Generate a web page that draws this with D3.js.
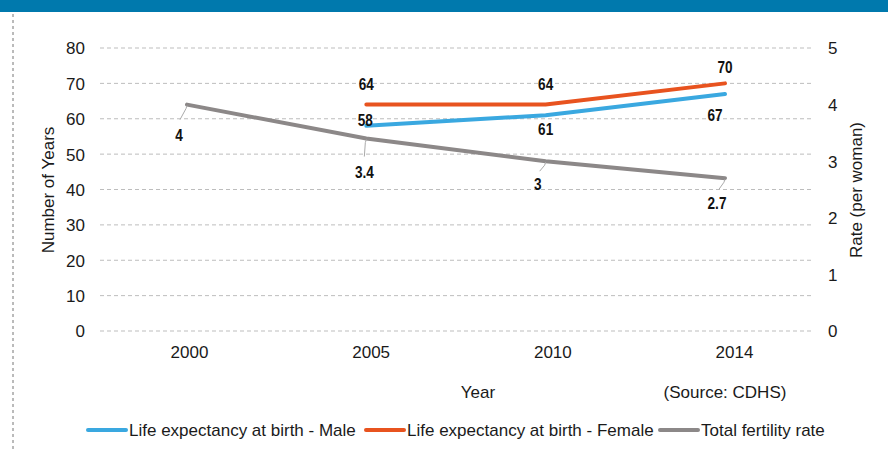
<!DOCTYPE html>
<html><head><meta charset="utf-8">
<script src="https://cdn.jsdelivr.net/npm/d3@7"></script>
<style>body{margin:0;background:#fff}svg{display:block}text{font-family:"Liberation Sans",Arial,sans-serif}</style>
</head><body>
<svg id="c" width="888" height="450"></svg>
<script>
const years = ["2000","2005","2010","2014"];
const maleLE = [null, 58, 61, 67];
const femaleLE = [null, 64, 64, 70];
const fertility = [4, 3.4, 3, 2.7];
const leftTicks = [0,10,20,30,40,50,60,70,80];
const rightTicks = [0,1,2,3,4,5];
const seriesNames = ["Life expectancy at birth - Male","Life expectancy at birth - Female","Total fertility rate"];
const colors = ["#3AA8E0","#E8531F","#8C8888"];

const svg = d3.select("#c");
svg.append("rect").attr("x",0).attr("y",0).attr("width",888).attr("height",12).attr("fill","#0079AD");
svg.append("line").attr("x1",13).attr("x2",13).attr("y1",14).attr("y2",450)
  .attr("stroke","#777").attr("stroke-width",1).attr("stroke-dasharray","3,3");

const x = d3.scalePoint().domain(years).range([187,725]);
const xAxisScale = d3.scalePoint().domain(years).range([189,734]);
const yL = d3.scaleLinear().domain([0,80]).range([331,48]);
const yR = d3.scaleLinear().domain([0,5]).range([331,48]);
const FS = 17;

// gridlines
svg.append("g").selectAll("line").data(leftTicks).join("line")
  .attr("x1",100).attr("x2",813).attr("y1",d=>yL(d)).attr("y2",d=>yL(d))
  .attr("stroke","#bdbdbd").attr("stroke-width",1).attr("stroke-dasharray","4,3");

// left axis
const axL = d3.axisLeft(yL).tickValues(leftTicks).tickSize(0).tickPadding(0);
const gL = svg.append("g").attr("transform","translate(85,0)").call(axL);
gL.select(".domain").remove();
gL.selectAll("text").attr("font-size",FS).attr("fill","#1a1a1a").attr("dy","0.35em");

const axR = d3.axisRight(yR).tickValues(rightTicks).tickSize(0).tickPadding(0).tickFormat(d3.format("d"));
const gR = svg.append("g").attr("transform","translate(828,0)").call(axR);
gR.select(".domain").remove();
gR.selectAll("text").attr("font-size",FS).attr("fill","#1a1a1a").attr("dy","0.35em");

const axB = d3.axisBottom(xAxisScale).tickSize(0).tickPadding(0);
const gB = svg.append("g").attr("transform","translate(0,346)").call(axB);
gB.select(".domain").remove();
gB.selectAll("text").attr("font-size",FS).attr("fill","#1a1a1a").attr("dy","0.71em");

// axis titles
svg.append("text").attr("transform","translate(54,190) rotate(-90)").attr("text-anchor","middle")
  .attr("font-size",FS).attr("fill","#1a1a1a").text("Number of Years");
svg.append("text").attr("transform","translate(862,190) rotate(-90)").attr("text-anchor","middle")
  .attr("font-size",FS).attr("fill","#1a1a1a").text("Rate (per woman)");
svg.append("text").attr("x",478).attr("y",398).attr("text-anchor","middle").attr("font-size",FS).attr("fill","#1a1a1a").text("Year");
svg.append("text").attr("x",725).attr("y",398).attr("text-anchor","middle").attr("font-size",FS).attr("fill","#1a1a1a").text("(Source: CDHS)");

// lines
const mk = (vals, y) => years.map((yr,i)=>({yr, v: vals[i]})).filter(d=>d.v!=null).map(d=>({...d, px:x(d.yr), py:y(d.v)}));
const male = mk(maleLE, yL), female = mk(femaleLE, yL), fert = mk(fertility, yR);
const line = d3.line().x(d=>d.px).y(d=>d.py);
[[fert,2],[female,1],[male,0]].forEach(([data,ci])=>{
  svg.append("path").datum(data).attr("d",line).attr("fill","none")
    .attr("stroke",colors[ci]).attr("stroke-width",4).attr("stroke-linecap","round");
});

const lbl = (d, dx, dy, txt) => svg.append("g")
  .attr("transform",`translate(${d.px+dx},${d.py+dy}) scale(0.8,1)`)
  .append("text").attr("text-anchor","middle").attr("dy","0.35em")
  .attr("font-weight","bold").attr("font-size",FS).attr("fill","#111").text(txt);

// female labels (above)
const fOff = [[0,-21],[0,-21],[0,-16]];
female.forEach((d,i)=>lbl(d, fOff[i][0], fOff[i][1], d.v));
// male labels
const mOff = [[-1,-6],[0,14],[-10,21]];
male.forEach((d,i)=>lbl(d, mOff[i][0], mOff[i][1], d.v));
// fertility labels with leaders
const tOff = [[-8,30],[-2,33],[-8,23],[-8,25]];
const tLead = [[-7,15],[-2,18],[-6,10],[-6,11]];
fert.forEach((d,i)=>{
  svg.append("polyline").attr("points",`${d.px},${d.py+1} ${d.px-1},${d.py+4} ${d.px+tLead[i][0]},${d.py+tLead[i][1]}`)
    .attr("fill","none").attr("stroke","#aaa").attr("stroke-width",1);
  lbl(d, tOff[i][0], tOff[i][1], d.v);
});

// legend
const legX = [88, 366, 660];
seriesNames.forEach((n,i)=>{
  svg.append("line").attr("x1",legX[i]).attr("x2",legX[i]+38).attr("y1",430).attr("y2",430)
    .attr("stroke",colors[i]).attr("stroke-width",4).attr("stroke-linecap","round");
  svg.append("text").attr("x",legX[i]+41).attr("y",430).attr("dy","0.35em").attr("font-size",FS).attr("fill","#1a1a1a").text(n);
});
</script>
</body></html>
